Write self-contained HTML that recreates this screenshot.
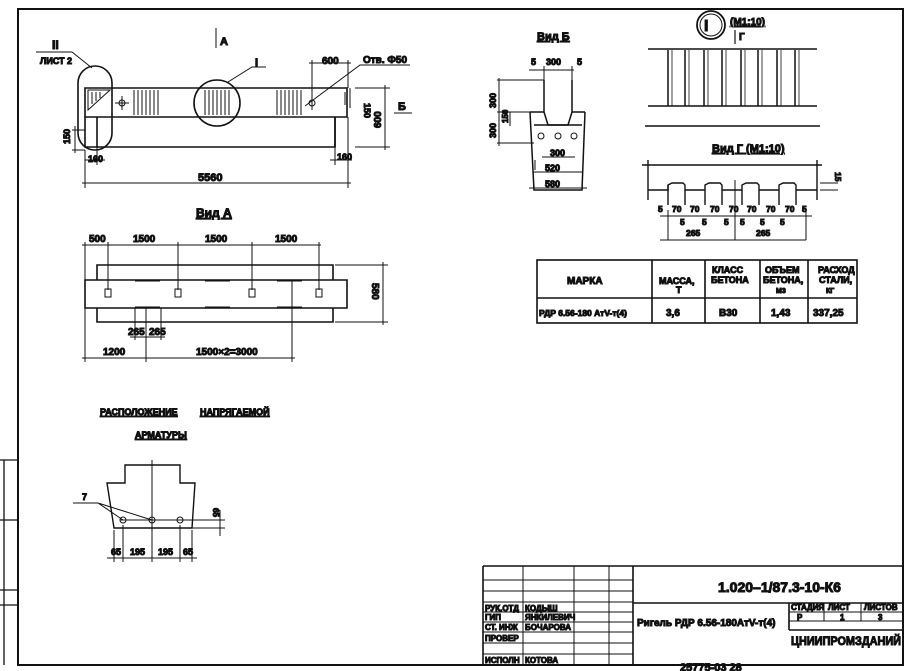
<!DOCTYPE html>
<html><head><meta charset="utf-8"><style>
html,body{margin:0;padding:0;background:#fff;}
svg{display:block;}
text{font-family:"Liberation Sans","DejaVu Sans",sans-serif;font-weight:bold;fill:#111;}
</style></head><body>
<svg width="912" height="671" viewBox="0 0 912 671" xmlns="http://www.w3.org/2000/svg" stroke="#111" fill="none">
<path d="M18 9 H903 V665 H18 Z" stroke-width="2"/>
<path d="M0 460 H18 M0 520 H18 M0 590 H18 M0 605 H18 M4 460 V665" stroke-width="1.3"/>

<g stroke-width="1.6">
<path d="M85 88 H347 V117 H85 Z"/>
<path d="M85 117 V147 H335 V117"/>
<path d="M97 117 V147 M335 117 V147"/>
<rect x="78" y="66" width="34" height="84" rx="17"/>
<circle cx="217" cy="103" r="23"/>
</g>
<g stroke-width="1">
<path d="M134 90 v25 M138 90 v25 M142 90 v25 M146 90 v25 M150 90 v25 M154 90 v25 M158 90 v25"/>
<path d="M205 90 v25 M209 90 v25 M213 90 v25 M217 90 v25 M221 90 v25 M225 90 v25 M229 90 v25"/>
<path d="M277 90 v25 M281 90 v25 M285 90 v25 M289 90 v25 M293 90 v25 M297 90 v25 M301 90 v25"/>
<path d="M88 90 L110 90 L88 110 Z M92 92 v12 M96 92 v9 M100 92 v6"/>
<path d="M122 96 v14 M115 103 h14"/>
<circle cx="122" cy="103" r="3"/>
<circle cx="312" cy="103" r="3"/>
<path d="M85 150 V188 M348 117 V188 M82 183 H351"/>
<path d="M312 60 V110 M348 60 V88 M309 63 H351"/>
<path d="M355 88 H390 M355 147 H390 M385 85 V150"/>
<path d="M350 88 V108 M345 92 V105"/>
<path d="M72 130 H85 M72 150 H85 M75 126 V153"/>
<path d="M85 160 H105 M97 147 V165 M335 147 V165 M330 160 H352"/>
<path d="M305 106 L360 65 H410 M228 82 L252 67 H266 M72 52 L92 68 M36 52 H72"/>
<path d="M216 28 V48 M394 113 H412"/>
</g>
<g font-size="11">
<text x="220" y="45">А</text>
<text x="52" y="49" font-size="12">II</text>
<text x="40" y="64" font-size="9">ЛИСТ 2</text>
<text x="255" y="66">I</text>
<text x="322" y="64" font-size="10">600</text>
<text x="363" y="63" font-size="10">Отв. Ф50</text>
<text x="398" y="110">Б</text>
<text x="198" y="181" font-size="11">5560</text>
<text x="88" y="162" font-size="9">160</text>
<text x="337" y="160" font-size="9">160</text>
<text transform="translate(364,103) rotate(90)" font-size="9">150</text>
<text transform="translate(381,128) rotate(-90)" font-size="10">600</text>
<text transform="translate(70,144) rotate(-90)" font-size="9">150</text>
</g>

<text x="196" y="217" font-size="12" text-decoration="underline">Вид А</text>
<g stroke-width="1.6">
<path d="M97 265 H333 V322 H97 Z" fill="#fff"/>
<path d="M85 280 H347 V308 H85 Z" fill="#fff"/>
</g>
<g stroke-width="1">
<rect x="105" y="289" width="6" height="8"/><rect x="175" y="289" width="6" height="8"/>
<rect x="249" y="289" width="6" height="8"/><rect x="316" y="289" width="6" height="8"/>
<path d="M135 281 h25 M205 281 h25 M277 281 h25 M135 307 h25 M205 307 h25 M277 307 h25"/>
<path d="M82 245 H321 M85 242 V300 M108 242 V290 M178 242 V290 M252 242 V290 M319 242 V290"/>
<path d="M335 265 H388 M335 322 H388 M383 262 V325"/>
<path d="M135 308 V340 M146 308 V362 M161 308 V340 M130 337 H165"/>
<path d="M85 308 V362 M292 280 V362 M82 358 H295"/>
</g>
<g font-size="10">
<text x="89" y="242">500</text><text x="133" y="242">1500</text><text x="205" y="242">1500</text><text x="275" y="242">1500</text>
<text transform="translate(372,283) rotate(90)">580</text>
<text x="128" y="335">265</text><text x="149" y="335">265</text>
<text x="103" y="355">1200</text><text x="196" y="355">1500×2=3000</text>
</g>

<text x="537" y="40" font-size="11" text-decoration="underline">Вид Б</text>
<g stroke-width="1.5">
<path d="M544 80 V112 L548 125 H568 L572 112 V80"/>
<path d="M530 112 H544 M572 112 H585 M530 112 L534 190 H582 L585 112"/>
<path d="M534 125 H582"/>
</g>
<g stroke-width="1">
<circle cx="541" cy="136" r="3"/><circle cx="558" cy="136" r="3"/><circle cx="574" cy="136" r="3"/>
<path d="M529 70 H574 M544 66 V80 M572 66 V80"/>
<path d="M497 80 H544 M497 112 H530 M497 143 H534 M499 78 V146"/>
<path d="M510 112 V126 M535 170 V160 M542 157 H575 M533 172 H583 M529 188 H587"/>
</g>
<g font-size="9">
<text x="531" y="65">5</text><text x="546" y="65">300</text><text x="577" y="65">5</text>
<text transform="translate(496,108) rotate(-90)">300</text>
<text transform="translate(496,138) rotate(-90)">300</text>
<text transform="translate(508,123) rotate(-90)" font-size="8">150</text>
<text x="550" y="156">300</text><text x="545" y="171">520</text><text x="545" y="187">580</text>
</g>

<circle cx="711" cy="25" r="14" stroke-width="1.8"/>
<circle cx="711" cy="25" r="11" stroke-width="1"/>
<text x="704" y="31" font-size="16">I</text>
<text x="730" y="25" font-size="10" text-decoration="underline">(М1:10)</text>
<text x="739" y="40" font-size="10">Г</text>
<path d="M735 30 V44" stroke-width="1.2"/>
<g stroke-width="1.5">
<path d="M648 49 H817 M648 106 H817 M645 126 H820"/>
<path d="M668 50 v56 M685 50 v56 M704 50 v56 M722 50 v56 M741 50 v56 M758 50 v56 M777 50 v56 M795 50 v56"/>
<path d="M672 50 v56 M689 50 v56 M708 50 v56 M726 50 v56 M745 50 v56 M762 50 v56 M781 50 v56 M799 50 v56" stroke-width="0.8"/>
</g>
<text x="712" y="152" font-size="11" text-decoration="underline">Вид Г (М1:10)</text>
<g stroke-width="1.4">
<path d="M642 165 H822 M648 160 V200 M817 160 V200"/>
<path d="M648 190 H668 V185 L672 183 H683 L685 185 V205 M685 190 H705 M705 205 V185 L709 183 H720 L722 185 V205 M722 190 H742 M742 205 V185 L746 183 H757 L759 185 V205 M759 190 H779 M779 205 V185 L783 183 H794 L796 185 V205 M796 190 H817"/>
<path d="M668 185 V205"/>
</g>
<g stroke-width="1">
<path d="M660 216 H812 M660 240 H806 M735 180 V240 M668 210 V240 M806 210 V240"/>
<path d="M820 183 H838 M820 190 H838"/>
</g>
<g font-size="8.5">
<text x="658" y="212">5</text><text x="672" y="212">70</text><text x="690" y="212">70</text><text x="710" y="212">70</text><text x="729" y="212">70</text>
<text x="747" y="212">70</text><text x="766" y="212">70</text><text x="785" y="212">70</text><text x="802" y="212">5</text>
<text x="680" y="225">5</text><text x="702" y="225">5</text><text x="724" y="225">5</text><text x="740" y="225">5</text><text x="760" y="225">5</text><text x="780" y="225">5</text>
<text x="686" y="236">265</text><text x="756" y="236">265</text>
<text transform="translate(835,172) rotate(90)">15</text>
</g>

<g stroke-width="1.6">
<rect x="537" y="260" width="320" height="63"/>
<path d="M537 298 H857 M652 260 V323 M705 260 V323 M760 260 V323 M808 260 V323"/>
</g>
<g font-size="9">
<text x="567" y="284" font-size="10">МАРКА</text>
<text x="659" y="284">МАССА,</text><text x="676" y="293">Т</text>
<text x="712" y="273">КЛАСС</text><text x="711" y="283">БЕТОНА</text>
<text x="765" y="273">ОБЪЕМ</text><text x="763" y="283">БЕТОНА,</text><text x="776" y="293" font-size="7">М3</text>
<text x="818" y="273">РАСХОД</text><text x="819" y="283">СТАЛИ,</text><text x="826" y="293" font-size="7">КГ</text>
<text x="539" y="316" font-size="8.5">РДР 6.56-180 АтV-т(4)</text>
<text x="666" y="316" font-size="10">3,6</text>
<text x="719" y="316" font-size="10">В30</text>
<text x="771" y="316" font-size="10">1,43</text>
<text x="813" y="316" font-size="10">337,25</text>
</g>

<text x="100" y="415" font-size="9" text-decoration="underline">РАСПОЛОЖЕНИЕ</text>
<text x="200" y="415" font-size="9" text-decoration="underline">НАПРЯГАЕМОЙ</text>
<text x="135" y="438" font-size="9" text-decoration="underline">АРМАТУРЫ</text>
<g stroke-width="1.4">
<path d="M107 483 H125 V465 H180 V483 H195 L192 528 H114 Z"/>
</g>
<g stroke-width="1">
<circle cx="123" cy="520" r="3"/><circle cx="152" cy="520" r="3"/><circle cx="180" cy="520" r="3"/>
<path d="M152 460 V530 M120 520 H225 M192 528 H225 M220 510 V536"/>
<path d="M73 503 H98 L123 520 M98 503 L152 520"/>
<path d="M107 558 H197 M114 530 V562 M123 525 V562 M152 530 V562 M180 525 V562 M192 530 V562"/>
</g>
<g font-size="9">
<text x="82" y="500">7</text>
<text x="111" y="555">65</text><text x="130" y="555">195</text><text x="158" y="555">195</text><text x="183" y="555">65</text>
<text transform="translate(213,508) rotate(90)" font-size="8">65</text>
</g>

<g stroke-width="1.6">
<path d="M483 566 H903 M483 566 V665 M633 566 V665 M633 603 H903 M789 603 V630 M789 630 H903"/>
<path d="M483 665 H903"/>
</g>
<g stroke-width="1">
<path d="M523 566 V665 M574 566 V665 M609 566 V665"/>
<path d="M483 580 H633 M483 591 H633 M483 602 H633 M483 612 H633 M483 622 H633 M483 632 H633 M483 643 H633 M483 654 H633"/>
<path d="M789 612 H903 M789 621 H903 M824 603 V621 M861 603 V621"/>
</g>
<text x="718" y="592" font-size="14">1.020–1/87.3-10-К6</text>
<g font-size="8">
<text x="485" y="611">РУК.ОТД</text><text x="525" y="611">КОДЫШ</text>
<text x="485" y="620">ГИП</text><text x="525" y="620">ЯНКИЛЕВИЧ</text>
<text x="485" y="630">СТ. ИНЖ</text><text x="525" y="630">БОЧАРОВА</text>
<text x="485" y="641">ПРОВЕР</text>
<text x="485" y="663">ИСПОЛН</text><text x="525" y="663">КОТОВА</text>
<text x="791" y="610">СТАДИЯ</text><text x="828" y="610">ЛИСТ</text><text x="864" y="610">ЛИСТОВ</text>
<text x="797" y="620">Р</text><text x="840" y="620">1</text><text x="878" y="620">3</text>
</g>
<text x="637" y="626" font-size="10">Ригель РДР 6.56-180АтV-т(4)</text>
<text x="791" y="645" font-size="12" textLength="110" lengthAdjust="spacingAndGlyphs">ЦНИИПРОМЗДАНИЙ</text>
<text x="680" y="671" font-size="11">25775-03   28</text>
</svg>
</body></html>
